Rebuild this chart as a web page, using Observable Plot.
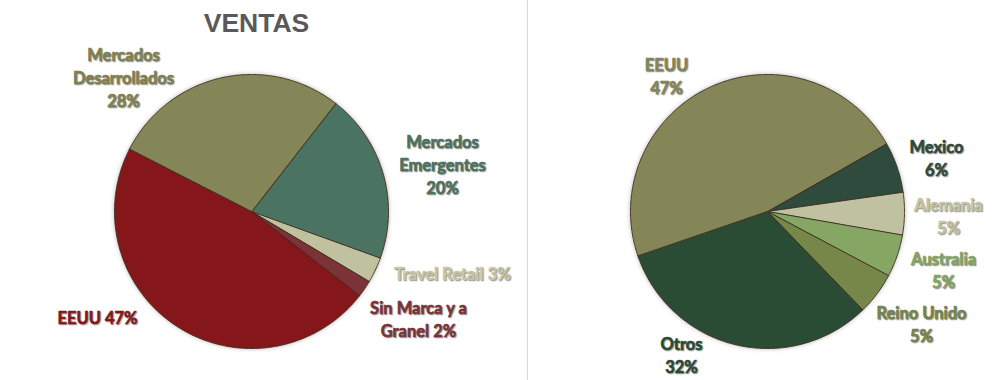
<!DOCTYPE html>
<html><head><meta charset="utf-8">
<script src="https://cdn.jsdelivr.net/npm/d3@7"></script>
<script src="https://cdn.jsdelivr.net/npm/@observablehq/plot@0.6"></script>
<style>
html,body{margin:0;padding:0;background:#fff;}
#wrap{position:relative;width:1002px;height:380px;overflow:hidden;background:#fff;}
#left{position:absolute;left:0;top:0;}
#right{position:absolute;left:528px;top:0;}
#divider{position:absolute;left:527px;top:0;width:1px;height:380px;background:#d9d9d9;}
.pie g[aria-label="line"]{filter:drop-shadow(0 0 2px rgba(60,40,30,0.35));}
.pie .lbl text{text-shadow:1px 1px 1px rgba(0,0,0,0.3);}
</style></head><body>
<div id="wrap"><div id="left"></div><div id="divider"></div><div id="right"></div></div>
<script>
// ---- data (clockwise order, starting at the first-slice angle) ----
const leftTitle = "VENTAS";
const leftCategories = ["Mercados\nEmergentes", "Travel Retail", "Sin Marca y a\nGranel", "EEUU", "Mercados\nDesarrollados"];
const leftValues = [20, 3, 2, 47, 28];
const leftSeparators = ["\n", " ", " ", " ", "\n"];

const rightCategories = ["Mexico", "Alemania", "Australia", "Reino Unido", "Otros", "EEUU"];
const rightValues = [6, 5, 5, 5, 32, 47];
const rightSeparators = ["\n", "\n", "\n", "\n", "\n", "\n"];

// ---- styles / layout ----
const leftSliceColors = ["#4b7361", "#bfc19f", "#7b3338", "#85171b", "#848657"];
const leftLabelColors = ["#4b7361", "#c6c8a6", "#7b3338", "#85171b", "#7f814f"];
const rightSliceColors = ["#2f4b3d", "#bfc1a1", "#86a663", "#778749", "#2a4b34", "#848657"];
const rightLabelColors = ["#2f4a3c", "#c3c5a5", "#84a562", "#758449", "#2a4a33", "#84865a"];
const leftLabelOffsets = [[191, -48], [201, 61], [167, 107], [-154, 105], [-128, -135]];
const rightLabelOffsets = [[169, -54], [181, 4], [176, 58], [154, 112], [-86, 143], [-101, -136]];

function pieChart({cats, vals, seps, sliceColors, labelColors, offsets, rot, width, cx, cy, R, title}) {
  const total = d3.sum(vals);
  let a0 = rot;
  const pts = [];
  const labels = [];
  cats.forEach((c, i) => {
    const a1 = a0 + vals[i] / total * 360;
    const n = Math.max(2, Math.ceil((a1 - a0) / 0.5));
    pts.push({c, x: 0, y: 0});
    for (let k = 0; k <= n; k++) {
      const a = (a0 + (a1 - a0) * k / n) * Math.PI / 180;
      pts.push({c, x: Math.sin(a), y: Math.cos(a)});
    }
    labels.push({
      t: c + seps[i] + Math.round(vals[i] / total * 100) + "%",
      x: offsets[i][0] / R,
      y: -offsets[i][1] / R,
      color: labelColors[i]
    });
    a0 = a1;
  });
  const marks = [
    Plot.line(pts, {x: "x", y: "y", z: "c", fill: "c", stroke: "#3b2a1e", strokeWidth: 0.9, curve: "linear-closed"}),
    ...labels.map(l => Plot.text([l], {
      x: "x", y: "y", text: "t", fill: l.color, stroke: l.color, strokeWidth: 0.6,
      fontFamily: "Lato", fontWeight: "bold", fontSize: 16.5,
      lineHeight: 1.38, lineAnchor: "middle", textAnchor: "middle",
      className: "lbl"
    }))
  ];
  if (title) {
    marks.push(Plot.text([title], {
      frameAnchor: "top-left", text: d => d, dx: cx + 5, dy: 23,
      fontFamily: "Liberation Sans, Arial, sans-serif", fontWeight: "bold", fontSize: 26.5,
      fill: "#595959", lineAnchor: "middle", textAnchor: "middle"
    }));
  }
  return Plot.plot({
    width, height: 380, margin: 0,
    className: "pie",
    style: {background: "transparent", overflow: "visible"},
    x: {domain: [-1, 1], range: [cx - R, cx + R], axis: null},
    y: {domain: [-1, 1], range: [cy + R, cy - R], axis: null},
    color: {domain: cats, range: sliceColors},
    marks
  });
}

document.getElementById("left").append(pieChart({
  cats: leftCategories, vals: leftValues, seps: leftSeparators,
  sliceColors: leftSliceColors, labelColors: leftLabelColors, offsets: leftLabelOffsets,
  rot: 37.9, width: 527, cx: 251, cy: 211, R: 137, title: leftTitle
}));
document.getElementById("right").append(pieChart({
  cats: rightCategories, vals: rightValues, seps: rightSeparators,
  sliceColors: rightSliceColors, labelColors: rightLabelColors, offsets: rightLabelOffsets,
  rot: 60.3, width: 474, cx: 239, cy: 211, R: 137, title: null
}));
</script>
</body></html>
